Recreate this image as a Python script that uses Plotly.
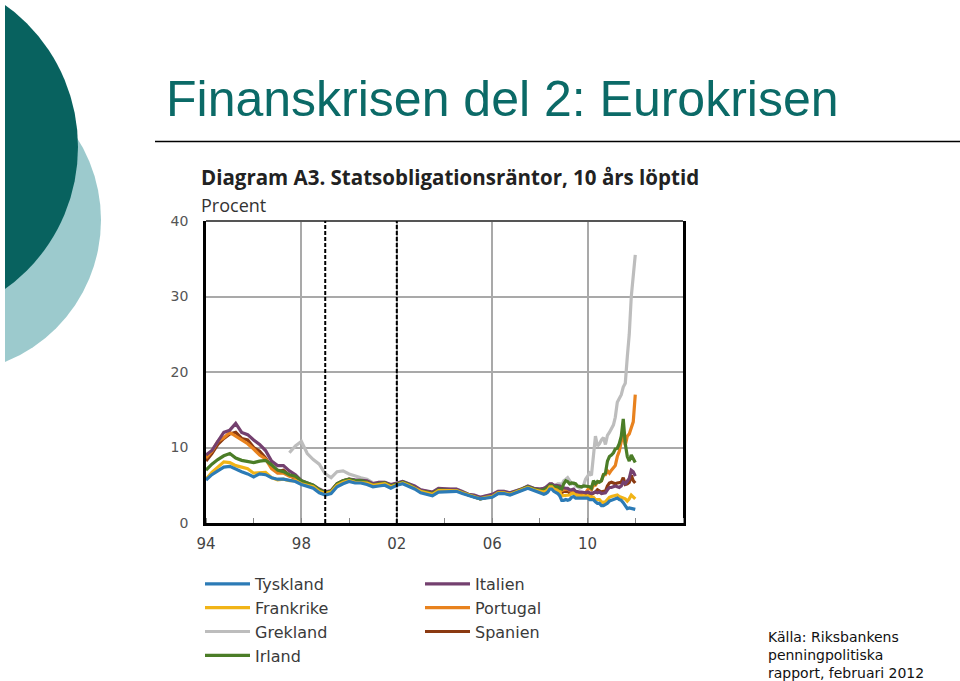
import pandas as pd
import plotly.graph_objects as go

# ---------------- data ----------------
quarters = pd.date_range("1994-01-01", "2007-10-01", freq="QS")   # 1994Q1 .. 2007Q4
months = pd.date_range("2008-01-01", "2012-01-01", freq="MS")     # 2008-01 .. 2012-01
dates = list(quarters) + list(months)

tyskland = [
    5.7, 6.4, 6.9, 7.4,  7.5, 7.1, 6.8, 6.5,  6.1, 6.5, 6.4, 6.0,  5.8, 5.8, 5.6, 5.5,
    5.1, 4.9, 4.6, 4.0,  3.7, 3.9, 4.8, 5.2,  5.5, 5.3, 5.3, 5.1,  4.8, 4.9, 5.0, 4.6,
    5.0, 5.2, 4.9, 4.5,  4.0, 3.8, 3.6, 4.1,  4.1, 4.1, 4.2, 3.9,  3.6, 3.4, 3.2, 3.3,
    3.4, 3.9, 3.9, 3.7,  4.0, 4.2, 4.6, 4.3,
    4.0, 3.9, 3.8, 3.9, 4.1, 4.5, 4.5, 4.2, 4.1, 3.9, 3.6, 3.0,
    3.0, 3.1, 3.0, 3.1, 3.4, 3.5, 3.3, 3.3, 3.3, 3.2, 3.2, 3.2,
    3.3, 3.1, 3.1, 3.1, 2.8, 2.6, 2.6, 2.3, 2.3, 2.4, 2.6, 2.9,
    3.0, 3.2, 3.3, 3.3, 3.1, 3.0, 2.7, 2.3, 1.9, 2.0, 1.9, 1.9,
    1.8,
]
frankrike = [
    5.8, 6.7, 7.4, 8.1,  8.0, 7.6, 7.4, 7.2,  6.6, 6.6, 6.7, 6.0,  5.7, 5.8, 5.6, 5.6,
    5.2, 5.0, 4.8, 4.2,  3.9, 4.1, 5.0, 5.4,  5.6, 5.4, 5.4, 5.3,  5.0, 5.1, 5.2, 4.8,
    5.1, 5.3, 5.0, 4.6,  4.2, 4.0, 3.8, 4.3,  4.3, 4.3, 4.3, 4.0,  3.7, 3.5, 3.2, 3.4,
    3.5, 4.0, 4.0, 3.8,  4.1, 4.3, 4.7, 4.4,
    4.2, 4.1, 4.1, 4.2, 4.4, 4.8, 4.8, 4.5, 4.4, 4.3, 4.1, 3.6,
    3.6, 3.7, 3.7, 3.7, 3.9, 3.9, 3.7, 3.7, 3.6, 3.5, 3.6, 3.5,
    3.6, 3.5, 3.4, 3.4, 3.1, 3.1, 3.1, 2.8, 2.7, 2.8, 3.1, 3.4,
    3.5, 3.6, 3.6, 3.7, 3.5, 3.4, 3.4, 3.2, 2.9, 3.2, 3.7, 3.4,
    3.2,
]
grekland = [
    None, None, None, None,  None, None, None, None,  None, None, None, None,  None, None, 9.3, 10.2,
    10.8, 9.2, 8.4, 7.8,  6.5, 6.0, 6.8, 6.9,  6.5, 6.2, 6.0, 5.8,  5.3, 5.4, 5.4, 5.0,
    5.3, 5.5, 5.2, 4.8,  4.4, 4.2, 4.0, 4.5,  4.5, 4.5, 4.5, 4.2,  3.8, 3.6, 3.4, 3.6,
    3.7, 4.2, 4.2, 4.0,  4.3, 4.5, 4.8, 4.6,
    4.5, 4.5, 4.6, 4.7, 4.9, 5.1, 5.2, 5.0, 5.0, 5.2, 5.2, 5.0,
    5.6, 5.8, 6.0, 5.6, 5.2, 5.3, 4.9, 4.8, 4.6, 4.7, 5.0, 5.8,
    6.2, 6.6, 6.3, 9.0, 11.5, 10.2, 10.5, 11.0, 11.3, 10.4, 11.6, 12.0,
    12.5, 13.0, 14.0, 16.0, 16.5, 17.0, 18.0, 18.5, 22.0, 25.0, 30.0, 33.0,
    35.5,
]
irland = [
    7.0, 7.8, 8.4, 8.9,  9.2, 8.6, 8.3, 8.2,  8.0, 8.2, 8.3, 7.7,  7.0, 6.8, 6.4, 6.2,
    5.6, 5.3, 5.0, 4.4,  4.0, 4.2, 5.2, 5.6,  5.8, 5.6, 5.6, 5.4,  5.0, 5.2, 5.3, 4.9,
    5.2, 5.4, 5.1, 4.7,  4.2, 4.1, 3.9, 4.4,  4.3, 4.3, 4.3, 4.0,  3.7, 3.5, 3.2, 3.4,
    3.5, 4.0, 4.0, 3.8,  4.1, 4.4, 4.8, 4.5,
    4.4, 4.3, 4.4, 4.5, 4.7, 5.0, 5.0, 4.8, 4.8, 4.8, 4.6, 4.5,
    5.2, 5.6, 5.5, 5.2, 5.3, 5.3, 5.2, 4.9, 4.8, 4.8, 4.9, 4.9,
    4.8, 4.8, 4.6, 5.6, 5.2, 5.5, 5.4, 5.6, 6.4, 6.6, 8.2, 8.8,
    9.0, 9.3, 9.8, 9.9, 10.5, 11.5, 13.8, 10.5, 8.8, 8.2, 9.0, 8.5,
    8.0,
]
italien = [
    9.0, 9.6, 10.8, 12.0,  12.3, 13.2, 12.0, 11.7,  11.0, 10.4, 9.6, 8.2,  7.6, 7.6, 6.9, 6.4,
    5.6, 5.3, 5.0, 4.5,  4.1, 4.3, 5.2, 5.6,  5.8, 5.7, 5.7, 5.6,  5.2, 5.4, 5.4, 5.1,
    5.3, 5.5, 5.2, 4.9,  4.4, 4.3, 4.1, 4.6,  4.5, 4.5, 4.5, 4.2,  3.8, 3.7, 3.4, 3.6,
    3.8, 4.2, 4.2, 4.0,  4.2, 4.5, 4.9, 4.6,
    4.5, 4.5, 4.6, 4.7, 4.9, 5.2, 5.2, 5.0, 5.0, 5.0, 4.9, 4.7,
    4.6, 4.6, 4.6, 4.4, 4.4, 4.5, 4.2, 4.1, 4.1, 4.1, 4.0, 4.0,
    4.1, 4.0, 3.9, 4.0, 4.1, 4.0, 4.1, 3.9, 3.9, 4.0, 4.4, 4.7,
    4.7, 4.8, 4.9, 4.8, 4.7, 4.9, 5.4, 5.2, 5.6, 5.9, 7.0, 6.8,
    6.2,
]
portugal = [
    8.6, 9.5, 10.8, 11.3,  12.0, 11.5, 11.0, 10.5,  9.8, 9.0, 8.5, 7.2,  6.6, 6.6, 6.2, 6.0,
    5.3, 5.1, 4.9, 4.4,  4.0, 4.2, 5.2, 5.6,  5.8, 5.6, 5.6, 5.4,  5.1, 5.2, 5.3, 5.0,
    5.2, 5.4, 5.1, 4.7,  4.2, 4.1, 4.0, 4.4,  4.4, 4.4, 4.4, 4.1,  3.7, 3.5, 3.3, 3.4,
    3.6, 4.1, 4.1, 3.9,  4.2, 4.4, 4.8, 4.5,
    4.4, 4.4, 4.5, 4.6, 4.8, 5.0, 5.0, 4.8, 4.8, 4.7, 4.5, 4.3,
    4.4, 4.5, 4.5, 4.3, 4.2, 4.3, 4.1, 4.0, 3.9, 3.8, 3.9, 4.0,
    4.4, 4.6, 4.4, 5.0, 5.0, 5.4, 5.5, 5.6, 6.4, 6.4, 6.9, 6.6,
    7.0, 7.3, 7.6, 8.8, 9.5, 10.8, 11.8, 10.3, 11.5, 11.8, 12.5, 13.4,
    17.0,
]
spanien = [
    8.2, 9.2, 10.4, 11.2,  11.8, 12.0, 11.2, 11.0,  10.0, 9.5, 8.6, 7.4,  6.8, 7.0, 6.3, 5.9,
    5.2, 5.0, 4.9, 4.3,  4.0, 4.2, 5.1, 5.5,  5.7, 5.5, 5.5, 5.4,  5.1, 5.2, 5.3, 5.0,
    5.2, 5.4, 5.1, 4.7,  4.2, 4.1, 3.9, 4.4,  4.3, 4.3, 4.3, 4.0,  3.7, 3.5, 3.2, 3.4,
    3.5, 4.0, 4.0, 3.8,  4.1, 4.4, 4.7, 4.4,
    4.3, 4.3, 4.3, 4.4, 4.6, 5.0, 4.9, 4.7, 4.7, 4.6, 4.3, 4.0,
    4.2, 4.2, 4.2, 4.0, 4.1, 4.3, 4.0, 3.9, 3.8, 3.8, 3.9, 3.9,
    4.0, 3.9, 3.8, 3.9, 4.1, 4.4, 4.3, 4.1, 4.2, 4.2, 4.9, 5.3,
    5.4, 5.3, 5.2, 5.3, 5.4, 5.4, 6.0, 5.1, 5.2, 5.4, 6.3, 5.6,
    5.3,
]

x_tick_vals = ["1994-01-01", "1998-01-01", "2002-01-01", "2006-01-01", "2010-01-01"]
x_tick_text = ["94", "98", "02", "06", "10"]
y_tick_vals = [0, 10, 20, 30, 40]
event_dates = ["1999-01-01", "2002-01-01"]

# draw order bottom -> top, with legend id and legend rank
series = [
    ("Grekland", grekland, "#bdbdbd", "legend", 3),
    ("Spanien", spanien, "#8b3a12", "legend2", 7),
    ("Portugal", portugal, "#e8821e", "legend2", 6),
    ("Italien", italien, "#74406f", "legend2", 5),
    ("Irland", irland, "#4b7d27", "legend", 4),
    ("Frankrike", frankrike, "#f1b417", "legend", 2),
    ("Tyskland", tyskland, "#2c7bb6", "legend", 1),
]

# ---------------- figure ----------------
W, H = 960, 681
def px(x):
    return x / W
def py(y):
    return 1 - y / H

fig = go.Figure()
for name, vals, col, leg, rank in series:
    fig.add_trace(go.Scatter(
        x=dates, y=vals, name=name, mode="lines",
        line=dict(color=col, width=3.2), legend=leg, legendrank=rank,
        connectgaps=False,
    ))

legend_font = dict(family="DejaVu Sans", size=16, color="#3a3a3a")
fig.update_layout(
    width=W, height=H,
    margin=dict(l=0, r=0, t=0, b=0, autoexpand=False),
    paper_bgcolor="white", plot_bgcolor="white",
    showlegend=True,
    xaxis=dict(
        type="date",
        domain=[px(206), px(683)],
        range=["1994-01-01", "2014-01-01"],
        tickvals=x_tick_vals, ticktext=x_tick_text,
        showgrid=True, gridcolor="#a9a9a9", gridwidth=1.5,
        showline=True, linecolor="black", linewidth=2.5,
        ticks="", ticklabelstandoff=5,
        tickfont=dict(family="DejaVu Sans", size=15, color="#444"),
        minor=dict(dtick="M24", tick0="1996-01-01", ticks="inside", ticklen=5,
                   tickcolor="#888", showgrid=False),
        zeroline=False, automargin=False,
    ),
    yaxis=dict(
        domain=[py(523), py(221)],
        range=[0, 40],
        tickvals=y_tick_vals,
        showgrid=True, gridcolor="#a9a9a9", gridwidth=1.5,
        showline=True, mirror=True, linecolor="black", linewidth=2.5,
        ticks="", ticklabelstandoff=12,
        tickfont=dict(family="DejaVu Sans", size=14, color="#555"),
        zeroline=False, automargin=False,
    ),
    legend=dict(
        x=px(200), y=py(567), xanchor="left", yanchor="top",
        bgcolor="rgba(0,0,0,0)", itemwidth=45,
        font=legend_font, traceorder="normal",
    ),
    legend2=dict(
        x=px(420), y=py(567), xanchor="left", yanchor="top",
        bgcolor="rgba(0,0,0,0)", itemwidth=45,
        font=legend_font, traceorder="normal",
    ),
)

shapes = []
# decorative circles (slide theme)
shapes.append(dict(type="circle", xref="paper", yref="paper", layer="below",
                   x0=px(-205), x1=px(101), y0=py(373), y1=py(67),
                   fillcolor="#9ccacd", line=dict(width=0)))
shapes.append(dict(type="circle", xref="paper", yref="paper", layer="below",
                   x0=px(-272), x1=px(78), y0=py(322), y1=py(-28),
                   fillcolor="#08625f", line=dict(width=0)))
shapes.append(dict(type="rect", xref="paper", yref="paper", layer="below",
                   x0=px(-10), x1=px(5), y0=0, y1=1,
                   fillcolor="white", line=dict(width=0)))
# title underline
shapes.append(dict(type="line", xref="paper", yref="paper",
                   x0=px(155), x1=1, y0=py(141.5), y1=py(141.5),
                   line=dict(color="black", width=1.5)))
# plot top border
shapes.append(dict(type="line", xref="x domain", yref="y domain",
                   x0=0, x1=1, y0=1, y1=1, line=dict(color="#555", width=2)))
# event markers
for d in event_dates:
    shapes.append(dict(type="line", xref="x", yref="y domain",
                       x0=d, x1=d, y0=0, y1=1,
                       line=dict(color="black", width=2, dash="4px,2px")))
fig.update_layout(shapes=shapes)

annotations = [
    dict(text="Finanskrisen del 2: Eurokrisen", x=px(164), y=py(99),
         xanchor="left", yanchor="middle",
         font=dict(family="Liberation Sans", size=50, color="#0b6a67")),
    dict(text="<b>Diagram A3. Statsobligationsräntor, 10 års löptid</b>",
         x=px(200), y=py(191.5), xanchor="left", yanchor="bottom", borderpad=0,
         font=dict(family="Open Sans", size=20.5, color="#222")),
    dict(text="Procent", x=px(200), y=py(192.5), xanchor="left", yanchor="top", borderpad=0,
         font=dict(family="Open Sans", size=18, color="#333")),
    dict(text="Källa: Riksbankens<br>penningpolitiska<br>rapport, februari 2012",
         x=px(766), y=py(655), xanchor="left", yanchor="middle", align="left",
         font=dict(family="DejaVu Sans", size=14, color="#111")),
]
for a in annotations:
    a.update(xref="paper", yref="paper", showarrow=False)
fig.update_layout(annotations=annotations)

fig.write_html("out.html")
